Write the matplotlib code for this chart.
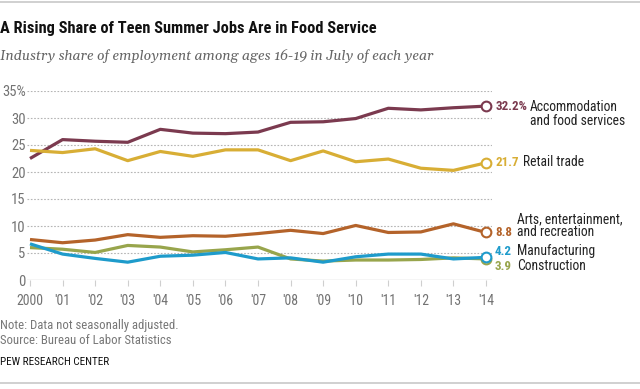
import matplotlib
matplotlib.use("Agg")
import matplotlib.pyplot as plt
from matplotlib.lines import Line2D

COND = ["Roboto Condensed", "DejaVu Sans"]
SERIF = ["Gelasio", "DejaVu Serif"]

years = list(range(2000, 2015))
year_labels = ["2000", "'01", "'02", "'03", "'04", "'05", "'06", "'07", "'08", "'09", "'10", "'11", "'12", "'13", "'14"]

accommodation = [22.5, 26.0, 25.7, 25.5, 27.9, 27.2, 27.1, 27.4, 29.2, 29.3, 29.9, 31.8, 31.5, 31.9, 32.2]
retail = [24.0, 23.6, 24.3, 22.1, 23.8, 22.9, 24.1, 24.1, 22.1, 23.9, 21.9, 22.4, 20.7, 20.3, 21.7]
arts = [7.5, 6.9, 7.4, 8.4, 7.9, 8.2, 8.1, 8.6, 9.2, 8.6, 10.1, 8.8, 8.9, 10.4, 8.8]
manufacturing = [6.7, 4.8, 4.0, 3.3, 4.4, 4.6, 5.1, 3.9, 4.1, 3.3, 4.3, 4.8, 4.8, 3.9, 4.2]
construction = [6.0, 5.7, 5.1, 6.4, 6.1, 5.2, 5.6, 6.1, 3.9, 3.5, 3.7, 3.7, 3.8, 4.1, 3.9]

y_ticks = [0, 5, 10, 15, 20, 25, 30, 35]
y_tick_labels = ["0", "5", "10", "15", "20", "25", "30", "35%"]

series = [
    ("accommodation", accommodation, "#7B3A4F"),
    ("retail", retail, "#D8AE35"),
    ("arts", arts, "#B4632A"),
    ("construction", construction, "#98A54C"),
    ("manufacturing", manufacturing, "#1E9BCB"),
]

W, H = 640, 389
fig = plt.figure(figsize=(6.4, 3.89), dpi=100)
ax = fig.add_axes([27 / W, 1 - 280 / H, (492 - 27) / W, (280 - 91) / H])
ax.set_xlim(2000 - 3 / 32.57, 2014 + 6 / 32.57)
ax.set_ylim(0, 35)

for yt in y_ticks[1:]:
    ax.axhline(yt, color="#b5b5b5", lw=0.8, ls=(0, (1.5, 1.5)), zorder=0)
ax.axhline(0, color="#cfcfcf", lw=1.0, zorder=0)

for name, vals, col in series:
    ax.plot(years, vals, color=col, lw=2.3, solid_capstyle="butt", zorder=2)
    ax.plot([years[-1]], [vals[-1]], marker="o", ms=7, mfc="white", mec=col, mew=1.5, zorder=3, ls="none")

for s in ax.spines.values():
    s.set_visible(False)
ax.set_yticks(y_ticks)
ax.set_yticklabels(y_tick_labels, fontsize=10.5, color="#737373", family=COND)
ax.tick_params(axis="y", length=0, pad=1)
ax.set_xticks(years)
ax.set_xticklabels(year_labels, fontsize=10, color="#737373", family=COND)
ax.tick_params(axis="x", length=4, color="#cfcfcf", pad=6)

def ftxt(x, y, s, **kw):
    fig.text(x / W, 1 - y / H, s, va="center", **kw)

lab = dict(fontsize=9.8, family=COND, color="#222222")
num = dict(fontsize=9.4, family=COND, weight="bold")
ftxt(496, 107, "32.2%", color="#7B3A4F", **num)
ftxt(530, 107, "Accommodation", **lab)
ftxt(530, 121, "and food services", **lab)
ftxt(495, 162, "21.7", color="#D8AE35", **num)
ftxt(523, 162, "Retail trade", **lab)
ftxt(517, 219, "Arts, entertainment,", **lab)
ftxt(495, 232, "8.8", color="#B4632A", **num)
ftxt(517, 232, "and recreation", **lab)
ftxt(495, 251, "4.2", color="#1E9BCB", **num)
ftxt(517, 251, "Manufacturing", **lab)
ftxt(495, 266, "3.9", color="#98A54C", **num)
ftxt(517, 266, "Construction", **lab)

ftxt(0, 28, "A Rising Share of Teen Summer Jobs Are in Food Service", fontsize=11.8, family=COND, weight="bold", color="#111111")
ftxt(0, 56, "Industry share of employment among ages 16-19 in July of each year", fontsize=10.1, family=SERIF, style="italic", color="#666666")
ftxt(0, 326, "Note: Data not seasonally adjusted.", fontsize=9.2, family=COND, color="#777777")
ftxt(0, 341, "Source: Bureau of Labor Statistics", fontsize=9.2, family=COND, color="#777777")
ftxt(0, 362, "PEW RESEARCH CENTER", fontsize=8, family=COND, color="#111111")

fig.add_artist(Line2D([0, 1], [1 - 2 / H, 1 - 2 / H], color="#c8c8c8", lw=1.2))
fig.add_artist(Line2D([0, 1], [1 - 383 / H, 1 - 383 / H], color="#c8c8c8", lw=1.2))

fig.savefig("out.png", dpi=100)
